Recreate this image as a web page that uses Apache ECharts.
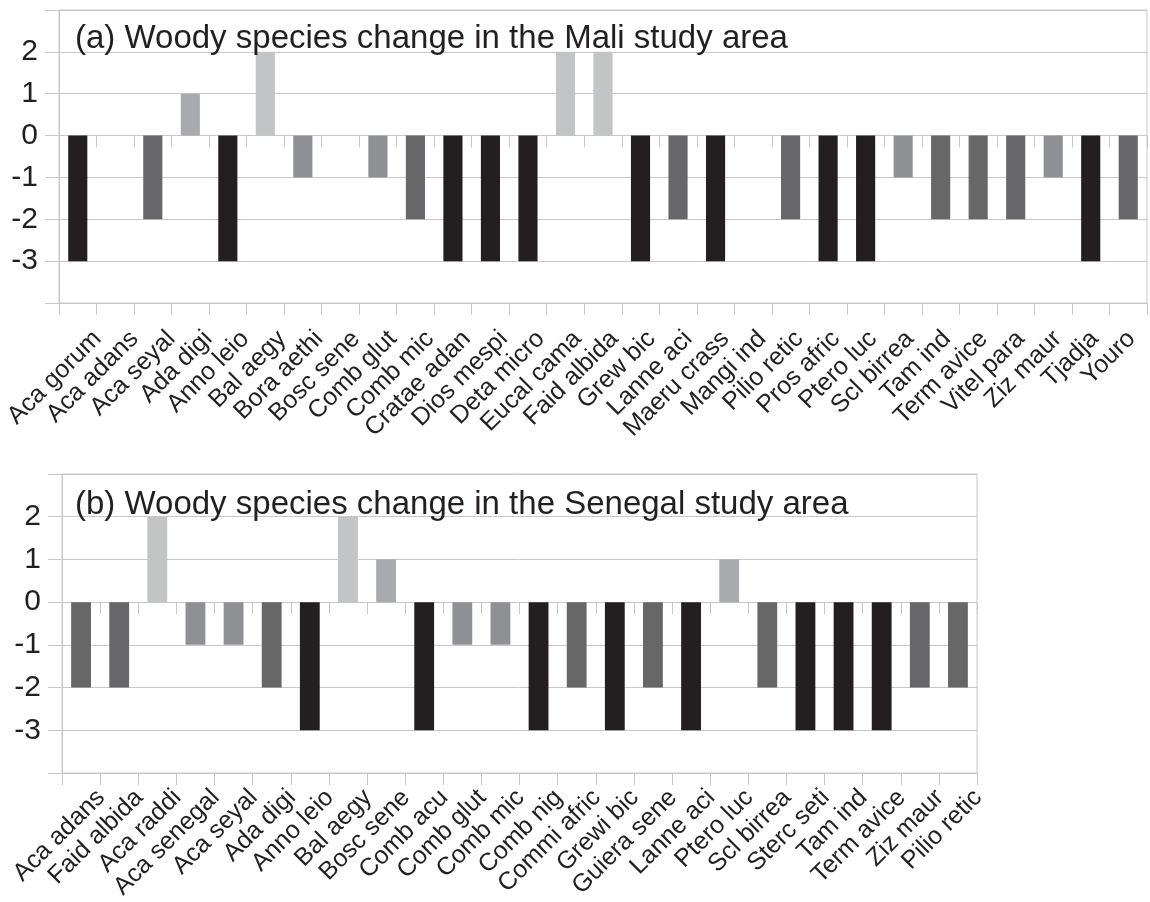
<!DOCTYPE html>
<html>
<head>
<meta charset="utf-8">
<script src="https://cdn.jsdelivr.net/npm/echarts@6/dist/echarts.min.js"></script>
<style>
html,body{margin:0;padding:0;background:#fff;}
#chart{width:1150px;height:902px;}
</style>
</head>
<body>
<div id="chart"></div>
<script>
// ---- data ----
const maliTitle = '(a) Woody species change in the Mali study area';
const maliSpecies = ['Aca gorum','Aca adans','Aca seyal','Ada digi','Anno leio','Bal aegy','Bora aethi','Bosc sene','Comb glut','Comb mic','Cratae adan','Dios mespi','Deta micro','Eucal cama','Faid albida','Grew bic','Lanne aci','Maeru crass','Mangi ind','Pilio retic','Pros afric','Ptero luc','Scl birrea','Tam ind','Term avice','Vitel para','Ziz maur','Tjadja','Youro'];
const maliChange = [-3,0,-2,1,-3,2,-1,0,-1,-2,-3,-3,-3,2,2,-3,-2,-3,0,-2,-3,-3,-1,-2,-2,-2,-1,-3,-2];

const senegalTitle = '(b) Woody species change in the Senegal study area';
const senegalSpecies = ['Aca adans','Faid albida','Aca raddi','Aca senegal','Aca seyal','Ada digi','Anno leio','Bal aegy','Bosc sene','Comb acu','Comb glut','Comb mic','Comb nig','Commi afric','Grewi bic','Guiera sene','Lanne aci','Ptero luc','Scl birrea','Sterc seti','Tam ind','Term avice','Ziz maur','Pilio retic'];
const senegalChange = [-2,-2,2,-1,-1,-2,-3,2,1,-3,-1,-1,-3,-2,-3,-2,-3,1,-2,-3,-3,-3,-2,-2];

const yTickLabels = [-3,-2,-1,0,1,2];
const yMin = -4, yMax = 3, yStep = 1;

// ---- styles ----
const changeColors = {'-3':'#231f20','-2':'#676769','-1':'#8f9093','1':'#a9aaad','2':'#c3c4c6'};
const GRID = '#c8c8c8';
const TEXT = '#231f20';
const FONT = '"Liberation Sans", Arial, Helvetica, sans-serif';

function yAxisVisible(gridIndex, margin) {
  return {
    type: 'value', gridIndex: gridIndex, min: yMin, max: yMax, interval: yStep,
    axisLine: {show: true, lineStyle: {color: GRID, width: 1}},
    axisTick: {show: true, length: 14, lineStyle: {color: GRID, width: 1}},
    splitLine: {show: true, lineStyle: {color: GRID, width: 1}},
    axisLabel: {
      show: true, margin: margin, fontSize: 30, color: TEXT, fontFamily: FONT,
      formatter: v => yTickLabels.indexOf(v) >= 0 ? String(v) : ''
    }
  };
}
function yAxisHidden(gridIndex) {
  return {type: 'value', gridIndex: gridIndex, min: yMin, max: yMax, interval: yStep, show: false};
}
function xTickAxis(gridIndex, cats, onZero) {
  return {
    type: 'category', gridIndex: gridIndex, data: cats, position: 'bottom', boundaryGap: true,
    axisLine: {show: true, onZero: onZero, lineStyle: {color: GRID, width: 1}},
    axisTick: {show: true, length: 12, interval: 0, lineStyle: {color: GRID, width: 1}},
    axisLabel: {show: false},
    splitLine: {show: false}
  };
}
function xLabelAxis(gridIndex, cats) {
  return {
    type: 'category', gridIndex: gridIndex, data: cats, position: 'bottom', boundaryGap: true,
    axisLine: {show: false, onZero: false},
    axisTick: {show: false},
    splitLine: {show: false},
    axisLabel: {show: true, interval: 0, rotate: 45, margin: 32, fontSize: 25, color: TEXT, fontFamily: FONT}
  };
}
function barData(values) {
  return values.map(v => ({value: v, itemStyle: {color: changeColors[String(v)] || '#000'}}));
}

const chart = echarts.init(document.getElementById('chart'), null, {renderer: 'canvas'});
const SHIFT = 20;
const g1 = {left: 59, top: 10, width: 1088, height: 293};
const g2 = {left: 62, top: 474, width: 915, height: 299};

chart.setOption({
  animation: false,
  backgroundColor: '#ffffff',
  title: [
    {text: maliTitle, left: 70, top: 17, textStyle: {fontSize: 33, fontWeight: 'normal', color: TEXT, fontFamily: FONT}},
    {text: senegalTitle, left: 70, top: 483, textStyle: {fontSize: 33, fontWeight: 'normal', color: TEXT, fontFamily: FONT}}
  ],
  grid: [
    Object.assign({show: true, borderColor: GRID, borderWidth: 1, backgroundColor: 'transparent'}, g1),
    Object.assign({}, g1, {left: g1.left + SHIFT}),
    Object.assign({show: true, borderColor: GRID, borderWidth: 1, backgroundColor: 'transparent'}, g2),
    Object.assign({}, g2, {left: g2.left + SHIFT})
  ],
  xAxis: [
    xTickAxis(0, maliSpecies, true),
    xTickAxis(0, maliSpecies, false),
    xLabelAxis(1, maliSpecies),
    xTickAxis(2, senegalSpecies, true),
    xTickAxis(2, senegalSpecies, false),
    xLabelAxis(3, senegalSpecies)
  ],
  yAxis: [
    yAxisVisible(0, 21),
    yAxisHidden(1),
    yAxisVisible(2, 21),
    yAxisHidden(3)
  ],
  series: [
    {type: 'bar', xAxisIndex: 0, yAxisIndex: 0, barWidth: '51%', data: barData(maliChange), z: 3},
    {type: 'bar', xAxisIndex: 3, yAxisIndex: 2, barWidth: '52%', data: barData(senegalChange), z: 3}
  ]
});
</script>
</body>
</html>
